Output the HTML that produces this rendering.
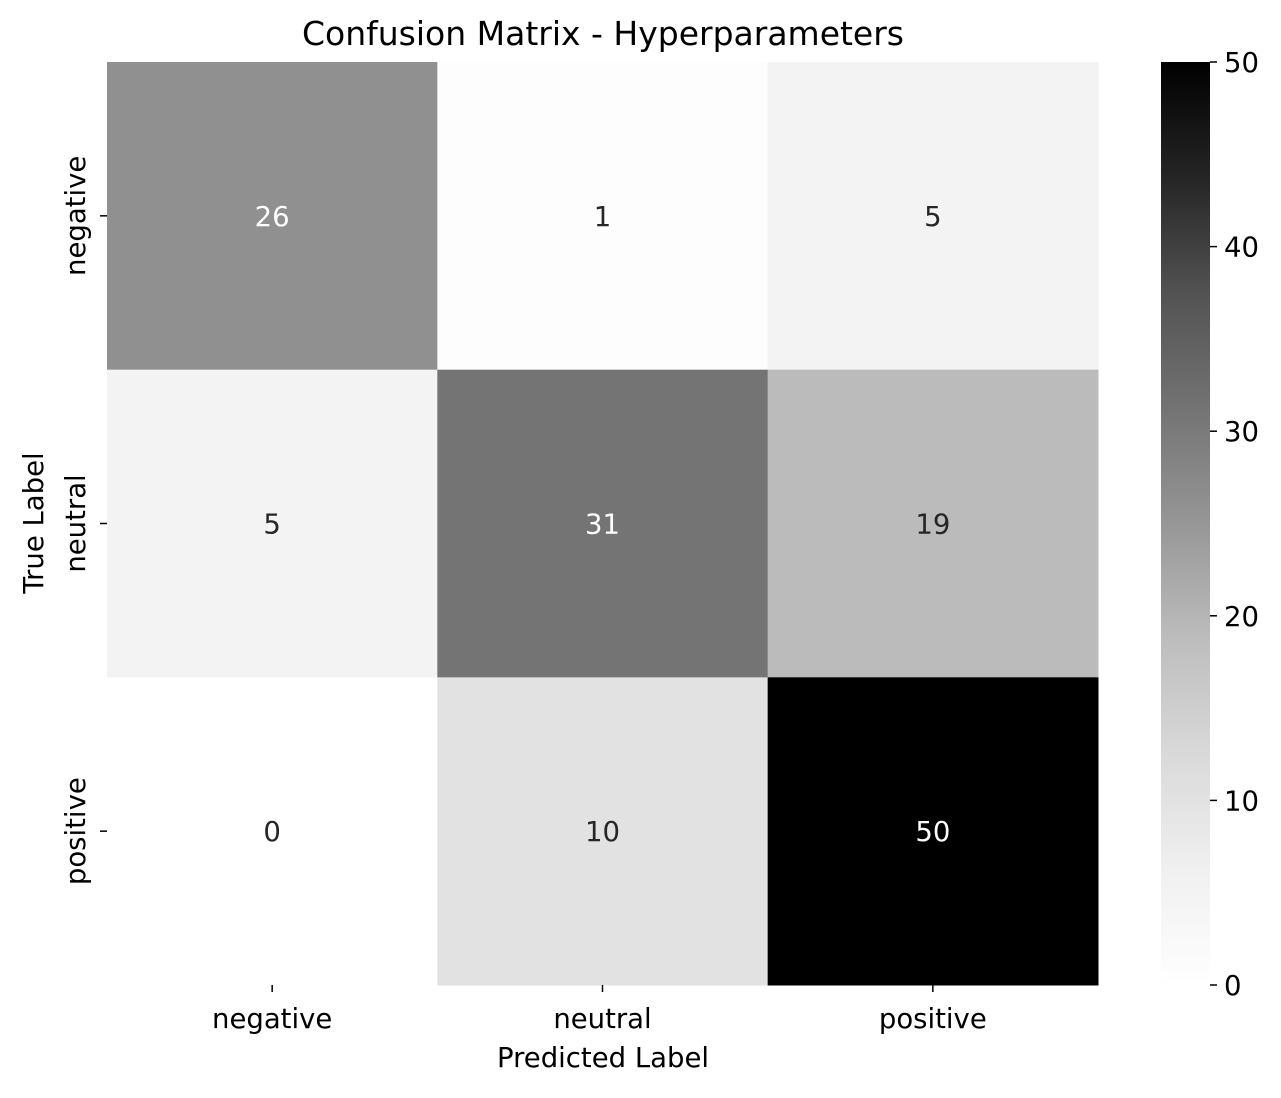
<!DOCTYPE html>
<html><head><meta charset="utf-8"><style>
body{margin:0;background:#fff;}
text{font-family:"DejaVu Sans","Liberation Sans",sans-serif;}
</style></head><body>
<svg id="chart" width="1281" height="1093" xmlns="http://www.w3.org/2000/svg">
<defs><linearGradient id="cbgrad" x1="0" y1="1" x2="0" y2="0">
<stop offset="0" stop-color="#ffffff"/><stop offset="0.125" stop-color="#f0f0f0"/><stop offset="0.25" stop-color="#d9d9d9"/><stop offset="0.375" stop-color="#bdbdbd"/><stop offset="0.5" stop-color="#969696"/><stop offset="0.625" stop-color="#737373"/><stop offset="0.75" stop-color="#525252"/><stop offset="0.875" stop-color="#252525"/><stop offset="1" stop-color="#000000"/>
</linearGradient></defs>
<text x="603" y="45" font-size="33" text-anchor="middle" fill="#000">Confusion Matrix - Hyperparameters</text>
<g id="cells"></g>
<g id="axes"></g>
<rect x="1161" y="62" width="49" height="923" fill="url(#cbgrad)"/>
<g id="cbticks"></g>
<text x="603" y="1067" font-size="27.5" text-anchor="middle" fill="#000">Predicted Label</text>
<text transform="translate(43,523) rotate(-90)" font-size="27.5" text-anchor="middle" fill="#000">True Label</text>
</svg>
<script>
const categories = ["negative","neutral","positive"];
const row0 = [26,1,5];
const row1 = [5,31,19];
const row2 = [0,10,50];
const matrix = [row0,row1,row2];
const vmin = 0, vmax = 50;
const cbTicks = [0,10,20,30,40,50];

const L=107,T=62,W=991,H=923;
const cw=W/categories.length, ch=H/categories.length;
const stops=[255,240,217,189,150,115,82,37,0];
function grey(v){let t=(v-vmin)/(vmax-vmin);t=Math.max(0,Math.min(1,t));const p=t*8,i=Math.min(7,Math.floor(p)),f=p-i;return Math.round(stops[i]+(stops[i+1]-stops[i])*f);}
const NS="http://www.w3.org/2000/svg";
function mk(tag,attrs,parent){const e=document.createElementNS(NS,tag);for(const k in attrs)e.setAttribute(k,attrs[k]);parent.appendChild(e);return e;}
const cells=document.getElementById('cells'), axes=document.getElementById('axes'), cbt=document.getElementById('cbticks');
matrix.forEach((row,r)=>row.forEach((v,c)=>{
  const g=grey(v);
  const rect=mk('rect',{x:L+c*cw,y:T+r*ch,width:cw+0.5,height:ch+0.5,fill:`rgb(${g},${g},${g})`},cells);
  
  
  const t=mk('text',{x:L+(c+0.5)*cw,y:T+(r+0.5)*ch+10,'font-size':27.5,'text-anchor':'middle',fill:g<165?'#fff':'#262626'},cells);
  t.textContent=v;
  
  
}));
categories.forEach((cat,i)=>{
  const x=L+(i+0.5)*cw;
  mk('line',{x1:x,y1:985,x2:x,y2:992,stroke:'#000','stroke-width':1.5},axes);
  const t=mk('text',{x:x,y:1028,'font-size':27.5,'text-anchor':'middle',fill:'#000'},axes);
  t.textContent=cat;
  
  
  const y=T+(i+0.5)*ch;
  mk('line',{x1:100,y1:y,x2:107,y2:y,stroke:'#000','stroke-width':1.5},axes);
  const ty=mk('text',{transform:`translate(85,${y}) rotate(-90)`,'font-size':27.5,'text-anchor':'middle',fill:'#000'},axes);
  ty.textContent=cat;
  
  
});
cbTicks.forEach(v=>{
  const y=985-(v-vmin)/(vmax-vmin)*923;
  mk('line',{x1:1210,y1:y,x2:1217,y2:y,stroke:'#000','stroke-width':1.5},cbt);
  const t=mk('text',{x:1224,y:y+10,'font-size':27.5,fill:'#000'},cbt);
  t.textContent=v;
  
  
});
</script>
</body></html>
